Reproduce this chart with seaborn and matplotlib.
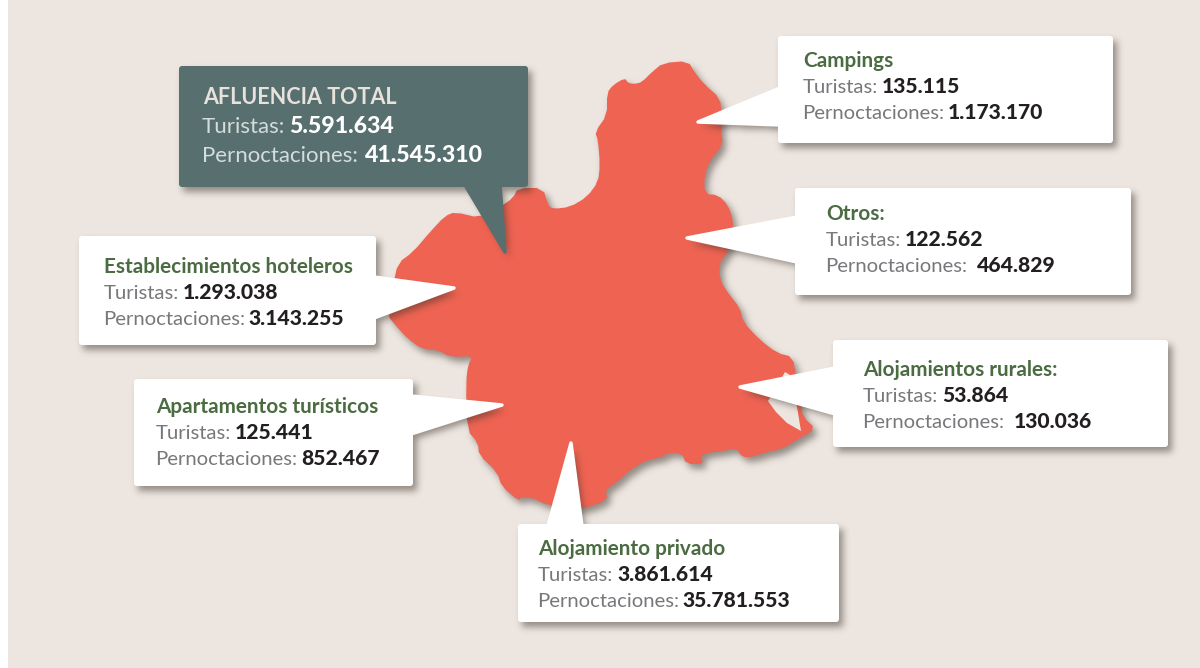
import numpy as np
import seaborn as sns
import matplotlib.pyplot as plt
from matplotlib.path import Path
from matplotlib.patches import Polygon, FancyBboxPatch, Rectangle

sns.set_theme(style="white")
plt.rcParams['font.family'] = ['Lato', 'DejaVu Sans']

# values
names = ['Campings', 'Otros:', 'Establecimientos hoteleros', 'Apartamentos turísticos', 'Alojamientos rurales:', 'Alojamiento privado']
turistas = ['135.115', '122.562', '1.293.038', '125.441', '53.864', '3.861.614']
pernoctaciones = ['1.173.170', '464.829', '3.143.255', '852.467', '130.036', '35.781.553']
total_name = 'AFLUENCIA TOTAL'
total_turistas = '5.591.634'
total_pernoctaciones = '41.545.310'

# layout in image pixels: box x0, y0, x1, y1, then the pointer triangle
boxes = [(778, 36, 1113, 143), (795, 188, 1131, 295), (79, 236, 376, 345),
         (134, 379, 413, 486), (833, 340, 1168, 447), (518, 524, 839, 622)]
tails = [[(698, 122), (780, 88), (780, 125)], [(687, 238), (797, 217), (797, 262)],
         [(454, 288), (374, 277), (374, 318)], [(502, 405), (411, 396), (411, 434)],
         [(740, 387), (835, 368), (835, 414)], [(571, 443), (548, 526), (582, 526)]]
text_x = [803, 826, 104, 156, 863, 538]
text_y = [67, 220, 273, 413, 376, 555]

region = [(625, 78), (628, 83), (635, 84), (642, 82), (652, 72), (663, 63), (688, 61), (695, 73),
          (705, 85), (720, 98), (722, 117), (721, 130), (723, 145), (710, 160), (704, 177), (705, 194),
          (718, 195), (728, 205), (733, 220), (733, 237), (728, 252), (719, 263), (720, 280), (728, 293),
          (740, 308), (743, 322), (760, 340), (777, 353), (793, 357), (796, 377), (800, 403), (803, 417),
          (816, 429), (800, 438), (782, 449), (767, 452), (752, 457), (742, 457), (736, 448), (723, 451),
          (707, 453), (700, 457), (704, 464), (686, 464), (682, 453), (667, 453), (663, 457), (647, 460),
          (630, 470), (617, 482), (605, 490), (608, 500), (580, 510), (547, 505), (533, 498), (521, 497),
          (519, 501), (502, 487), (497, 472), (479, 455), (478, 443), (467, 430), (466, 383), (468, 365),
          (473, 356), (450, 357), (438, 350), (422, 349), (407, 338), (397, 327), (387, 315), (393, 285),
          (398, 263), (413, 252), (430, 232), (445, 216), (455, 212), (480, 218), (500, 207), (513, 198),
          (518, 188), (543, 188), (548, 205), (553, 209), (570, 207), (587, 197), (598, 182), (600, 165),
          (598, 140), (595, 132), (607, 115), (607, 93), (613, 85)]
lagoon = [(785, 372), (790, 375), (797, 407), (801, 431), (787, 423), (776, 412), (768, 401), (775, 390)]

BG = '#EDE6E0'
RED = '#EE6352'
TEAL = '#576F6F'
GREEN = '#4B6C42'
GREY = '#77787B'
DARK = '#231F20'


def smooth(points, rounds=1):
    pts = np.array(points, dtype=float)
    for i in range(rounds):
        nxt = np.roll(pts, -1, axis=0)
        pts = np.column_stack([0.75 * pts + 0.25 * nxt, 0.25 * pts + 0.75 * nxt]).reshape(-1, 2)
    return pts


def shadow(ax, polys, z, dx=4, dy=5, sigma=3.5, strength=0.5):
    # rasterise the shape, blur it and lay it down as a soft image
    allpts = np.vstack([np.array(p, dtype=float) for p in polys]) + [dx, dy]
    pad = int(4 * sigma)
    x0, y0 = np.floor(allpts.min(axis=0)).astype(int) - pad
    x1, y1 = np.ceil(allpts.max(axis=0)).astype(int) + pad
    xx, yy = np.meshgrid(np.arange(x0, x1) + 0.5, np.arange(y0, y1) + 0.5)
    grid = np.column_stack([xx.ravel(), yy.ravel()])
    mask = np.zeros(xx.shape)
    for p in polys:
        inside = Path(np.array(p, dtype=float) + [dx, dy]).contains_points(grid)
        mask = np.maximum(mask, inside.reshape(xx.shape).astype(float))
    k = np.exp(-0.5 * (np.arange(-pad, pad + 1) / sigma) ** 2)
    k = k / k.sum()
    mask = np.apply_along_axis(lambda r: np.convolve(r, k, mode='same'), 0, mask)
    mask = np.apply_along_axis(lambda r: np.convolve(r, k, mode='same'), 1, mask)
    rgba = np.zeros(mask.shape + (4,))
    rgba[..., :3] = np.array([58, 48, 40]) / 255
    rgba[..., 3] = mask * strength
    ax.imshow(rgba, extent=(x0, x1, y1, y0), aspect='auto', interpolation='bilinear', zorder=z)


def rect_pts(b):
    return [(b[0], b[1]), (b[2], b[1]), (b[2], b[3]), (b[0], b[3])]


def callout(ax, box, tail, color, z):
    shadow(ax, [rect_pts(box), tail], z)
    ax.add_patch(FancyBboxPatch((box[0] + 3, box[1] + 3), box[2] - box[0] - 6, box[3] - box[1] - 6,
                                boxstyle='round,pad=3,rounding_size=3', fc=color, ec='none', zorder=z + 0.1))
    ax.add_patch(Polygon(tail, closed=True, fc=color, ec=color, lw=2.5, joinstyle='round', zorder=z + 0.1))


def line(ax, x, y, label, value, size, c1, c2, gap=0):
    t = ax.text(x, y, label, fontsize=size, color=c1, va='baseline', ha='left', zorder=20)
    bb = t.get_window_extent(fig.canvas.get_renderer())
    x2 = ax.transData.inverted().transform((bb.x1, bb.y0))[0]
    ax.text(x2 + size * 0.25 + gap, y, value, fontsize=size * 1.04, color=c2, fontweight='black',
            va='baseline', ha='left', zorder=20)


fig, ax = plt.subplots(figsize=(12, 6.68), dpi=100)
fig.patch.set_facecolor('white')
ax.set_position([0, 0, 1, 1])
ax.axis('off')

ax.add_patch(Rectangle((8, 0), 1192, 668, fc=BG, ec='none', zorder=0))
ax.text(328, -4, 'g', fontsize=15, color=TEAL, fontweight='bold', ha='center', va='baseline', clip_on=False, zorder=1)

outline = smooth(region)
shadow(ax, [outline], 1)
ax.add_patch(Polygon(outline, closed=True, fc=RED, ec='none', zorder=2))
ax.add_patch(Polygon(lagoon, closed=True, fc=BG, ec='none', zorder=2.1))

for i in range(len(names)):
    callout(ax, boxes[i], tails[i], 'white', 3 + i)
callout(ax, (179, 66, 528, 187), [(505, 252), (465, 185), (500, 185)], TEAL, 10)

ax.set_xlim(0, 1200)
ax.set_ylim(668, 0)

for i in range(len(names)):
    x, y = text_x[i], text_y[i]
    ax.text(x, y, names[i], fontsize=14.95, color=GREEN, fontweight='bold', va='baseline', ha='left', zorder=20)
    gap = 6 if i in (1, 4) else 0
    line(ax, x, y + 26, 'Turistas:', turistas[i], 14.6, GREY, DARK)
    line(ax, x - 1, y + 52, 'Pernoctaciones:', pernoctaciones[i], 14.6, GREY, DARK, gap)

ax.text(203, 104, total_name, fontsize=15.5, color='#E8E2DC', fontweight='bold', va='baseline', ha='left', zorder=20)
line(ax, 202, 133, 'Turistas:', total_turistas, 16, '#D5DCDC', 'white')
line(ax, 202, 162, 'Pernoctaciones:', total_pernoctaciones, 16, '#D5DCDC', 'white', 2)

fig.savefig('out.png', dpi=100)
